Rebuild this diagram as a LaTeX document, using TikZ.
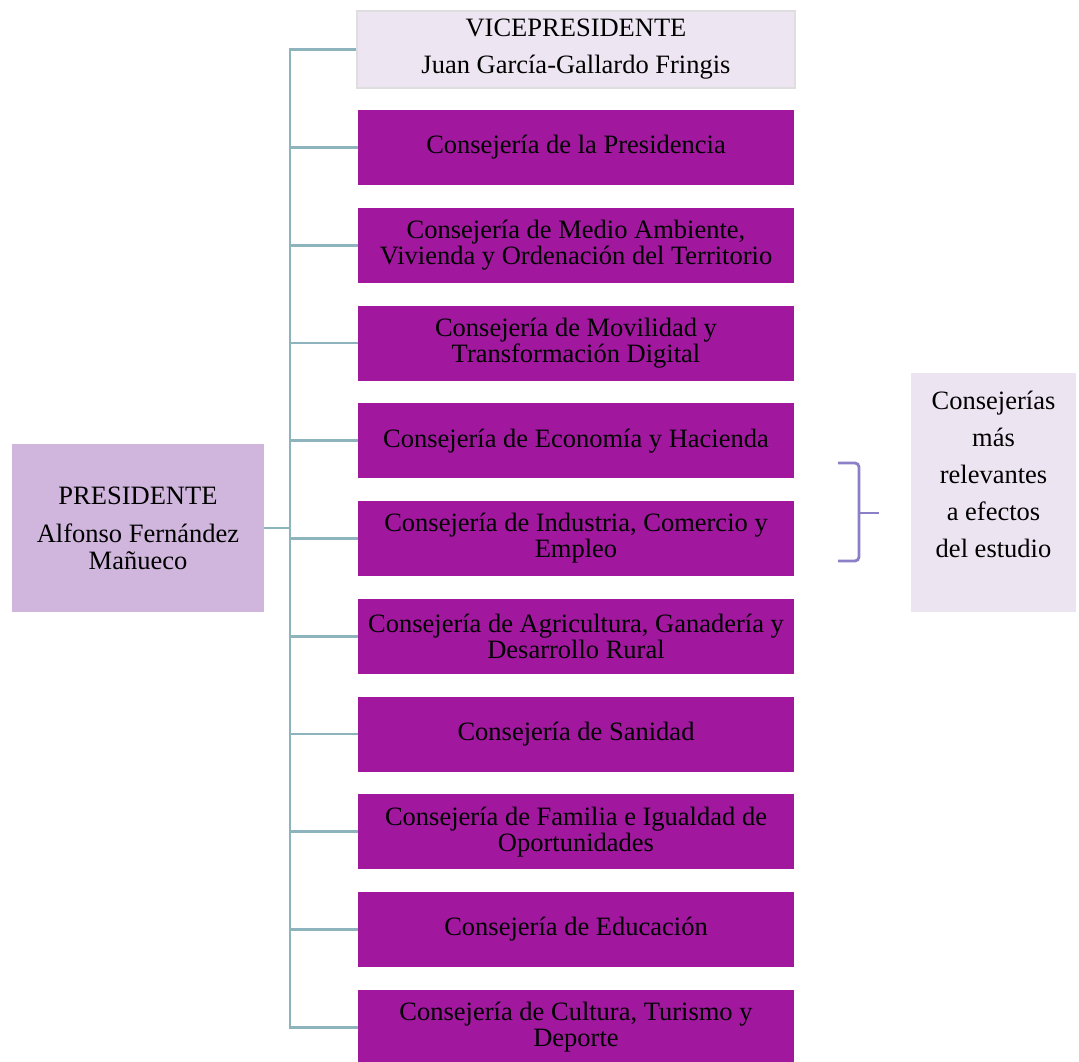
\documentclass[tikz,border=0pt]{standalone}
\usepackage{fontspec}
\setmainfont{Liberation Serif}
\usetikzlibrary{positioning}
\definecolor{consPurple}{HTML}{A1189F}
\definecolor{viceFill}{HTML}{EDE6F2}
\definecolor{viceLine}{HTML}{DEDEDE}
\definecolor{presFill}{HTML}{D0B5DD}
\definecolor{noteFill}{HTML}{EDE4F2}
\definecolor{busLine}{HTML}{8DB3BD}
\definecolor{braceLine}{HTML}{8B80C8}

\begin{document}
\begin{tikzpicture}[x=1pt, y=-1pt,
        node distance=97.75pt,
        cons node/.style={rectangle, fill=consPurple, minimum width=436pt,
          minimum height=75pt, inner sep=0pt, align=center,
          font=\fontsize{26.5}{26}\selectfont},
        vice node/.style={rectangle, fill=viceFill, draw=viceLine, line width=1.5pt,
          minimum width=438pt, minimum height=77pt, inner sep=0pt, align=center,
          font=\fontsize{26.5}{37}\selectfont},
        pres node/.style={rectangle, fill=presFill, minimum width=252pt,
          minimum height=168pt, inner sep=0pt, align=center,
          font=\fontsize{26.5}{27}\selectfont},
        note node/.style={rectangle, fill=noteFill, minimum width=165pt,
          minimum height=239pt, inner sep=0pt, align=center,
          font=\fontsize{26.5}{37}\selectfont},
        bus/.style={draw=busLine, line width=2.6pt},
        brace line/.style={draw=braceLine, line width=2.8pt, rounded corners=4pt}]

    \useasboundingbox (0,0) rectangle (1079,1062);

    % Nodes
    \node[vice node] (v) at (576,49.5) {VICEPRESIDENTE\\Juan García-Gallardo Fringis};
    \node[cons node] (c1) at (576,147.5) {Consejería de la Presidencia};
    \node[cons node] (c2) [below of=c1] {Consejería de Medio Ambiente,\\Vivienda y Ordenación del Territorio};
    \node[cons node] (c3) [below of=c2] {Consejería de Movilidad y\\Transformación Digital};
    \node[cons node] (c4) [below of=c3] {Consejería de Economía y Hacienda};
    \node[cons node] (c5) [below of=c4] {Consejería de Industria, Comercio y\\Empleo};
    \node[cons node] (c6) [below of=c5] {Consejería de Agricultura, Ganadería y\\Desarrollo Rural};
    \node[cons node] (c7) [below of=c6] {Consejería de Sanidad};
    \node[cons node] (c8) [below of=c7] {Consejería de Familia e Igualdad de\\Oportunidades};
    \node[cons node] (c9) [below of=c8] {Consejería de Educación};
    \node[cons node] (c10) [below of=c9] {Consejería de Cultura, Turismo y\\Deporte};
    \node[pres node] (p) at (138,528) {PRESIDENTE\\[11pt]Alfonso Fernández\\Mañueco};
    \node[note node] (n) at (993.5,492.5) {Consejerías\\más\\relevantes\\a efectos\\del estudio\\\mbox{}};
    \coordinate (b) at (290,0);

    % Edges
    \draw[bus] (v.west) -- (v.west -| b) -- (c10.west -| b) -- (c10.west);
    \path[bus, every edge/.style={bus}]
    (p.east) edge (p.east -| b)
    (c1.west -| b) edge (c1.west)
    (c2.west -| b) edge (c2.west)
    (c3.west -| b) edge (c3.west)
    (c4.west -| b) edge (c4.west)
    (c5.west -| b) edge (c5.west)
    (c6.west -| b) edge (c6.west)
    (c7.west -| b) edge (c7.west)
    (c8.west -| b) edge (c8.west)
    (c9.west -| b) edge (c9.west);

    % Brace
    \draw[brace line] (838,463) -- (859,463) -- (859,513) -- (859,561) -- (838,561);
    \draw[brace line] (859,513) -- (879,513);

\end{tikzpicture}
\end{document}
